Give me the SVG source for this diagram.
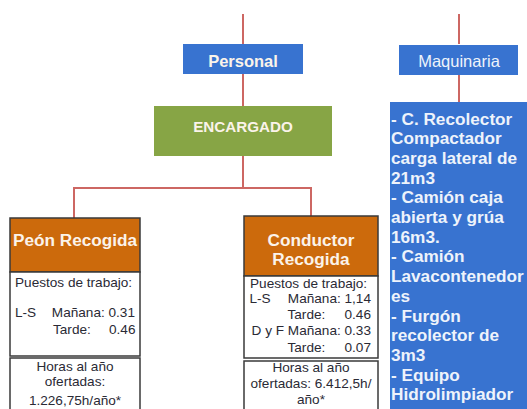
<svg xmlns="http://www.w3.org/2000/svg" width="527" height="409" viewBox="0 0 527 409">
<style>
.ln{stroke:#cd6763;stroke-width:2;fill:none}
.blue{fill:#3873d0}
.hd{font-family:"Liberation Sans",Arial,sans-serif;font-weight:bold;fill:#fbf3ea}
.or{fill:#cc6a0c;stroke:#3a3a3a;stroke-width:1.5}
.wb{fill:#fff;stroke:#3a3a3a;stroke-width:1.5}
.tx{font-family:"Liberation Sans",Arial,sans-serif;font-size:13.6px;fill:#2a2a35}
.mq{font-family:"Liberation Sans",Arial,sans-serif;font-weight:bold;font-size:17.2px;fill:#eef3fb}
</style>
<rect width="527" height="409" fill="#fff"/>
<g id="connectors">
<path class="ln" d="M243 14V44M243 74V106M243 156V188M74 188H312M74 187V218M311 187V216"/>
<path class="ln" d="M459 14V44M459 75V102"/>
</g>
<g id="personal">
<rect class="blue" x="183" y="44" width="120" height="30"/>
<text class="hd" x="243" y="67" font-size="16.5" text-anchor="middle">Personal</text>
</g>
<g id="maquinaria">
<rect class="blue" x="399" y="45" width="119" height="30"/>
<text x="459" y="67" font-family="Liberation Sans,Arial,sans-serif" font-size="16.5" fill="#eef3fb" text-anchor="middle">Maquinaria</text>
</g>
<g id="encargado">
<rect x="154" y="106" width="178" height="50" fill="#87a545"/>
<text class="hd" x="243" y="132" font-size="15.2" text-anchor="middle">ENCARGADO</text>
</g>
<g id="peon">
<rect class="or" x="10" y="218" width="130" height="54"/>
<text class="hd" x="75" y="246" font-size="17.2" text-anchor="middle">Peón Recogida</text>
<rect class="wb" x="10" y="272" width="130" height="84"/>
<text class="tx" x="15" y="286.5">Puestos de trabajo:</text>
<text class="tx" x="15" y="316.5">L-S</text>
<text class="tx" x="135" y="316.5" text-anchor="end">Mañana: 0.31</text>
<text class="tx" x="53" y="334">Tarde:</text>
<text class="tx" x="135.5" y="334" text-anchor="end">0.46</text>
<rect class="wb" x="10" y="358" width="130" height="56"/>
<text class="tx" x="75" y="370.5" text-anchor="middle">Horas al año</text>
<text class="tx" x="75" y="386" text-anchor="middle">ofertadas:</text>
<text class="tx" x="75" y="404.5" text-anchor="middle">1.226,75h/año*</text>
</g>
<g id="conductor">
<rect class="or" x="244" y="216" width="134" height="60"/>
<text class="hd" x="311" y="246" font-size="17.2" text-anchor="middle">Conductor</text>
<text class="hd" x="311" y="265" font-size="17.2" text-anchor="middle">Recogida</text>
<rect class="wb" x="244" y="276" width="134" height="82"/>
<text class="tx" x="250" y="288">Puestos de trabajo:</text>
<text class="tx" x="249.5" y="303">L-S</text>
<text class="tx" x="371" y="303" text-anchor="end">Mañana: 1,14</text>
<text class="tx" x="287.5" y="318.5">Tarde:</text>
<text class="tx" x="371" y="318.5" text-anchor="end">0.46</text>
<text class="tx" x="371" y="335" text-anchor="end">D y F Mañana: 0.33</text>
<text class="tx" x="287.5" y="351.5">Tarde:</text>
<text class="tx" x="371" y="351.5" text-anchor="end">0.07</text>
<rect class="wb" x="244" y="361" width="134" height="53"/>
<text class="tx" x="311" y="372" text-anchor="middle">Horas al año</text>
<text class="tx" x="311" y="388" text-anchor="middle">ofertadas: 6.412,5h/</text>
<text class="tx" x="311" y="404" text-anchor="middle">año*</text>
</g>
<g id="maquinaria-lista">
<rect class="blue" x="390" y="102" width="140" height="312"/>
<text class="mq" x="391" y="124.5">- C. Recolector</text>
<text class="mq" x="391" y="144.2">Compactador</text>
<text class="mq" x="391" y="163.9">carga lateral de</text>
<text class="mq" x="391" y="183.6">21m3</text>
<text class="mq" x="391" y="203.3">- Camión caja</text>
<text class="mq" x="391" y="223">abierta y grúa</text>
<text class="mq" x="391" y="242.7">16m3.</text>
<text class="mq" x="391" y="262.4">- Camión</text>
<text class="mq" x="391" y="282.1">Lavacontenedor</text>
<text class="mq" x="391" y="301.8">es</text>
<text class="mq" x="391" y="321.5">- Furgón</text>
<text class="mq" x="391" y="341.2">recolector de</text>
<text class="mq" x="391" y="360.9">3m3</text>
<text class="mq" x="391" y="380.6">- Equipo</text>
<text class="mq" x="391" y="400.3">Hidrolimpiador</text>
</g>
</svg>
